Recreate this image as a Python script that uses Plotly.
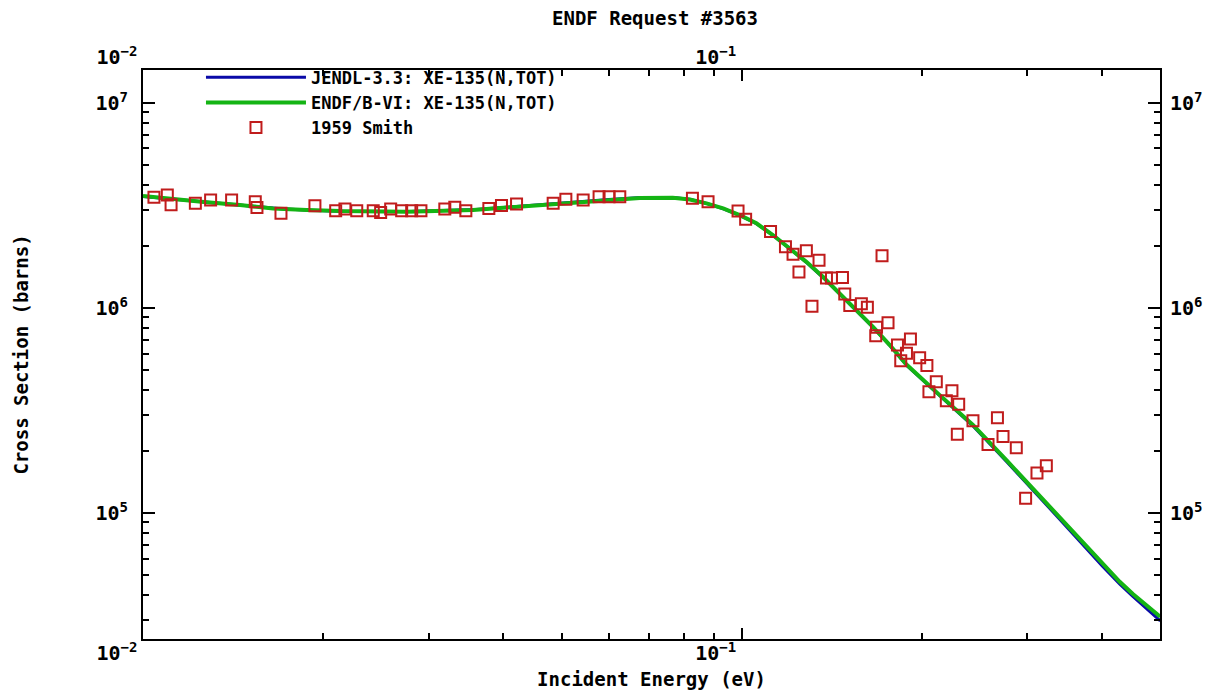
import plotly.graph_objects as go

# ---------------- data ----------------
endf_e = [0.0100, 0.01124, 0.01277, 0.01452, 0.01650, 0.01876, 0.02133, 0.02756,
          0.03559, 0.04047, 0.04601, 0.05228, 0.05943, 0.06755, 0.0767, 0.0819,
          0.0873, 0.0931, 0.0992, 0.1058, 0.1127, 0.1203, 0.1282, 0.1366, 0.1457,
          0.1555, 0.1655, 0.1767, 0.1884, 0.2141, 0.2433, 0.2767, 0.3144, 0.3355,
          0.40, 0.4278, 0.45, 0.50]
endf_xs = [3.52e6, 3.39e6, 3.28e6, 3.18e6, 3.06e6, 3.01e6, 2.97e6, 2.95e6,
           3.01e6, 3.09e6, 3.18e6, 3.28e6, 3.36e6, 3.44e6, 3.45e6, 3.38e6,
           3.24e6, 3.06e6, 2.84e6, 2.59e6, 2.27e6, 1.96e6, 1.68e6, 1.42e6, 1.18e6,
           9.78e5, 8.11e5, 6.60e5, 5.30e5, 3.76e5, 2.69e5, 1.81e5, 1.21e5, 9.85e4,
           5.66e4, 4.62e4, 4.03e4, 3.12e4]

jendl_e = [0.0100, 0.01150, 0.01300, 0.01480, 0.01700, 0.01900, 0.02200, 0.02800,
           0.03600, 0.04100, 0.04650, 0.05300, 0.06000, 0.06800, 0.0770, 0.0822,
           0.0876, 0.0934, 0.0995, 0.1060, 0.1130, 0.1205, 0.1285, 0.1370, 0.1460,
           0.1560, 0.1660, 0.1770, 0.1890, 0.2150, 0.2440, 0.2770, 0.3150, 0.3360,
           0.40, 0.4280, 0.45, 0.50]
jendl_xs = [3.50e6, 3.37e6, 3.27e6, 3.16e6, 3.05e6, 3.00e6, 2.96e6, 2.96e6,
            3.02e6, 3.11e6, 3.20e6, 3.30e6, 3.38e6, 3.46e6, 3.46e6, 3.38e6,
            3.23e6, 3.04e6, 2.82e6, 2.57e6, 2.25e6, 1.94e6, 1.66e6, 1.40e6, 1.16e6,
            9.65e5, 8.00e5, 6.52e5, 5.22e5, 3.70e5, 2.64e5, 1.78e5, 1.19e5, 9.65e4,
            5.52e4, 4.50e4, 3.92e4, 2.98e4]

smith_e = [0.01043, 0.01098, 0.01114, 0.01223, 0.01297, 0.01406, 0.01540, 0.01550,
           0.01700, 0.01937, 0.02098, 0.02174, 0.02275, 0.02424, 0.02494, 0.02592,
           0.02704, 0.02810, 0.02912, 0.03192, 0.03317, 0.03461, 0.03781, 0.03969,
           0.04206, 0.04842, 0.05084, 0.05434, 0.05777, 0.06003, 0.06256,
           0.08272, 0.08784, 0.09858, 0.1015, 0.1117, 0.1183, 0.1218, 0.1282,
           0.1346, 0.1246, 0.1715, 0.1385, 0.1412, 0.1473, 0.1310, 0.1486, 0.1515,
           0.1584, 0.1621, 0.1679, 0.1755, 0.1674, 0.1820, 0.1913, 0.1884, 0.1982,
           0.1843, 0.2038, 0.2113, 0.2054, 0.2244, 0.2196, 0.2303, 0.2433, 0.2291,
           0.2673, 0.2578, 0.2731, 0.2874, 0.3226, 0.3112, 0.2979]
smith_xs = [3.47e6, 3.56e6, 3.19e6, 3.24e6, 3.36e6, 3.36e6, 3.30e6, 3.09e6,
            2.90e6, 3.15e6, 2.98e6, 3.04e6, 2.98e6, 2.98e6, 2.92e6, 3.04e6,
            2.98e6, 2.98e6, 2.98e6, 3.04e6, 3.10e6, 2.98e6, 3.06e6, 3.16e6,
            3.22e6, 3.24e6, 3.39e6, 3.36e6, 3.49e6, 3.49e6, 3.49e6,
            3.43e6, 3.30e6, 2.97e6, 2.71e6, 2.36e6, 1.99e6, 1.83e6, 1.90e6,
            1.71e6, 1.50e6, 1.80e6, 1.40e6, 1.40e6, 1.41e6, 1.02e6, 1.17e6, 1.03e6,
            1.05e6, 1.01e6, 8.05e5, 8.48e5, 7.33e5, 6.60e5, 7.06e5, 6.01e5, 5.72e5,
            5.53e5, 5.25e5, 4.37e5, 3.91e5, 3.95e5, 3.53e5, 3.39e5, 2.82e5, 2.42e5,
            2.92e5, 2.16e5, 2.36e5, 2.08e5, 1.70e5, 1.57e5, 1.18e5]

x_major = [0.01, 0.1]
x_major_text = ["10<sup>−2</sup>", "10<sup>−1</sup>"]
x_minor = [0.02, 0.03, 0.04, 0.05, 0.06, 0.07, 0.08, 0.09, 0.2, 0.3, 0.4]
y_major = [1e5, 1e6, 1e7]
y_major_text = ["10<sup>5</sup>", "10<sup>6</sup>", "10<sup>7</sup>"]
y_minor = [3e4, 4e4, 5e4, 6e4, 7e4, 8e4, 9e4,
           2e5, 3e5, 4e5, 5e5, 6e5, 7e5, 8e5, 9e5,
           2e6, 3e6, 4e6, 5e6, 6e6, 7e6, 8e6, 9e6]

x_range = [-2.0, -0.3015]
y_range = [4.3856, 7.161]

FONT = "DejaVu Sans Mono"
BLUE = "#0A0AA8"
GREEN = "#14B414"
RED = "#C01C1C"

fig = go.Figure()
fig.add_trace(go.Scatter(x=jendl_e, y=jendl_xs, mode="lines",
                         name="JENDL-3.3: XE-135(N,TOT)",
                         line=dict(color=BLUE, width=3)))
fig.add_trace(go.Scatter(x=endf_e, y=endf_xs, mode="lines",
                         name="ENDF/B-VI: XE-135(N,TOT)",
                         line=dict(color=GREEN, width=4)))
fig.add_trace(go.Scatter(x=smith_e, y=smith_xs, mode="markers",
                         name="1959 Smith", xaxis="x2", yaxis="y2",
                         marker=dict(symbol="square-open", size=11, color=RED,
                                     line=dict(color=RED, width=2))))

tickfont = dict(family=FONT, size=20, color="black", weight="bold")
minor_x = dict(tickmode="array", tickvals=x_minor, ticks="inside",
               ticklen=6, tickwidth=2, tickcolor="black")
minor_y = dict(tickmode="array", tickvals=y_minor, ticks="inside",
               ticklen=6, tickwidth=2, tickcolor="black")
axis_common = dict(type="log", showgrid=False, zeroline=False, automargin=False,
                   showline=True, linecolor="black", linewidth=2,
                   ticks="inside", tickcolor="black", tickwidth=2,
                   tickfont=tickfont)

fig.update_layout(
    width=1226, height=691,
    margin=dict(l=143, r=66, t=70, b=52),
    paper_bgcolor="white", plot_bgcolor="white",
    font=dict(family=FONT, size=16, color="black", weight="bold"),
    title=dict(text="ENDF Request #3563", x=655 / 1226, xanchor="center",
               y=1 - 18 / 691, yanchor="middle",
               font=dict(family=FONT, size=19, color="black", weight="bold")),
    xaxis=dict(range=x_range, tickmode="array", tickvals=x_major,
               ticktext=x_major_text, ticklen=11, ticklabelshift=-26,
               ticklabelstandoff=-5, minor=minor_x,
               title=dict(text="Incident Energy (eV)", standoff=9,
                          font=dict(family=FONT, size=19, color="black", weight="bold")),
               **axis_common),
    xaxis2=dict(range=x_range, overlaying="x", side="top", anchor="y",
                tickmode="array", tickvals=x_major, ticktext=x_major_text,
                ticklen=11, ticklabelshift=-26, ticklabelstandoff=-4, minor=minor_x,
                **axis_common),
    yaxis=dict(range=y_range, tickmode="array", tickvals=y_major,
               ticktext=y_major_text, ticklen=12, ticklabelstandoff=9,
               minor=minor_y,
               title=dict(text="Cross Section (barns)", standoff=62,
                          font=dict(family=FONT, size=19, color="black", weight="bold")),
               **axis_common),
    yaxis2=dict(range=y_range, overlaying="y", side="right", anchor="x",
                tickmode="array", tickvals=y_major, ticktext=y_major_text,
                ticklen=12, ticklabelstandoff=4, minor=minor_y,
                **axis_common),
    legend=dict(x=0.057, y=1.018, xanchor="left", yanchor="top",
                bgcolor="rgba(0,0,0,0)", borderwidth=0,
                font=dict(family=FONT, size=17, color="black", weight="bold"),
                tracegroupgap=0, itemwidth=100),
    showlegend=True,
)

fig.write_html("out.html")
